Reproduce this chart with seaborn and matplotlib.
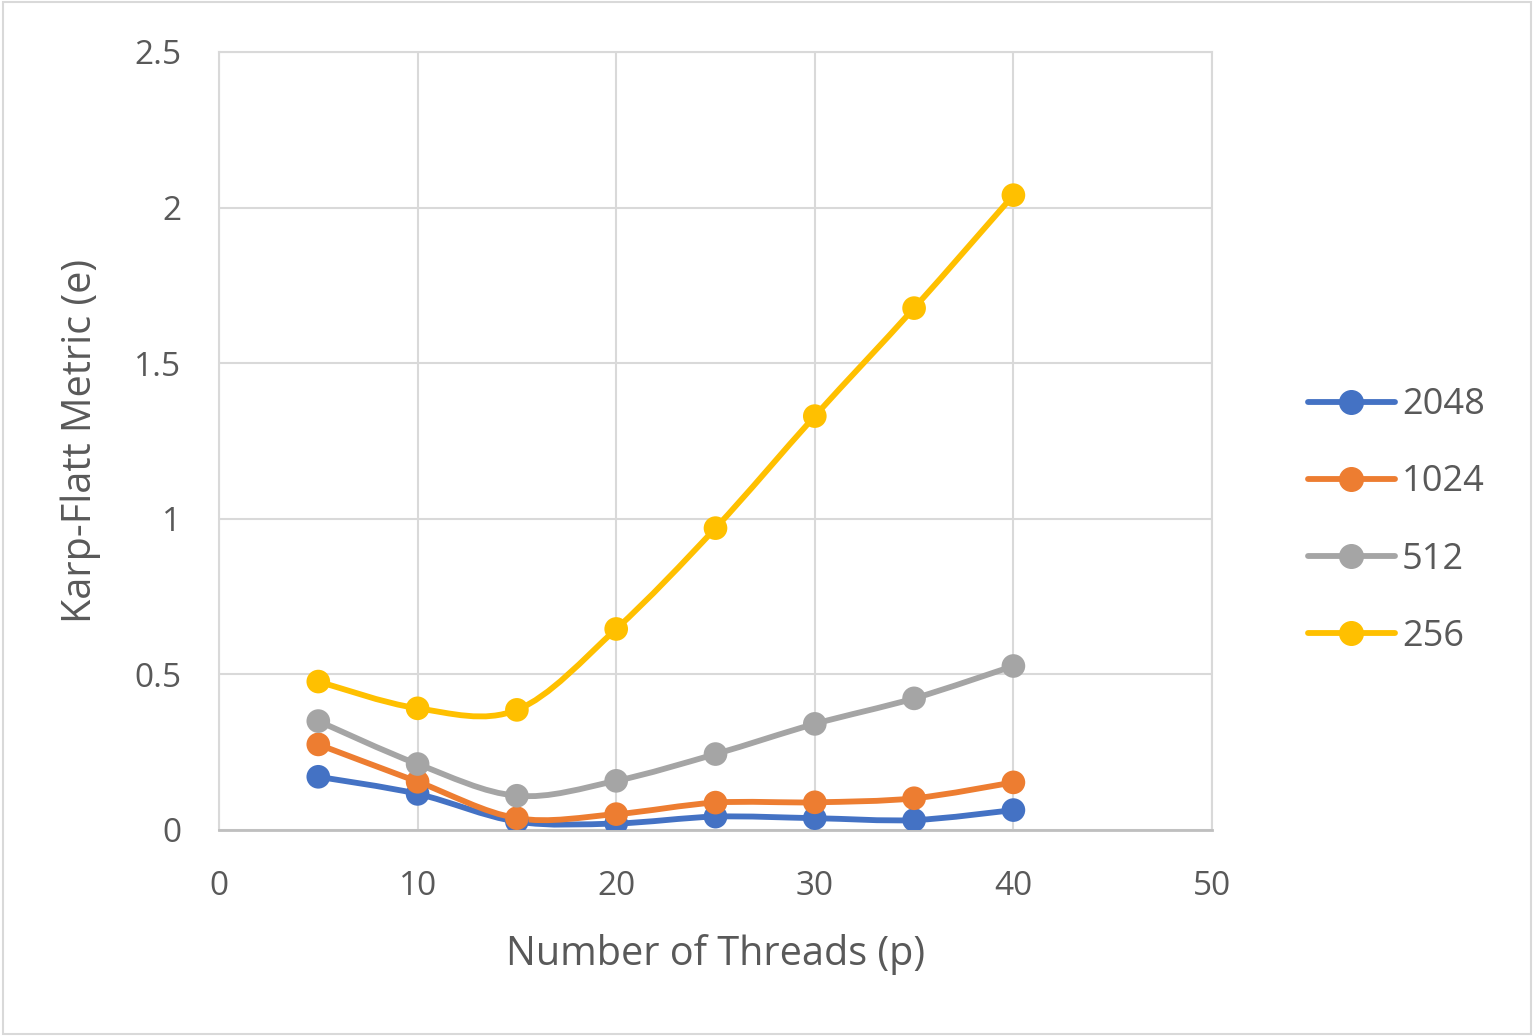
import numpy as np
import pandas as pd
import matplotlib
matplotlib.use("Agg")
import matplotlib.pyplot as plt
from matplotlib.path import Path
from matplotlib.patches import PathPatch, Rectangle
from matplotlib.lines import Line2D
import seaborn as sns

sns.set_style("white")
plt.rcParams["font.family"] = ["Open Sans", "DejaVu Sans"]

# values
threads = [5, 10, 15, 20, 25, 30, 35, 40]
series_names = ["2048", "1024", "512", "256"]
e_2048 = [0.171, 0.116, 0.027, 0.021, 0.043, 0.038, 0.032, 0.064]
e_1024 = [0.275, 0.155, 0.038, 0.051, 0.088, 0.089, 0.102, 0.153]
e_512 = [0.350, 0.212, 0.110, 0.158, 0.244, 0.341, 0.423, 0.527]
e_256 = [0.477, 0.391, 0.386, 0.646, 0.970, 1.330, 1.677, 2.040]
colors = ["#4472C4", "#ED7D31", "#A5A5A5", "#FFC000"]

df = pd.DataFrame({
    "Threads": threads * 4,
    "Metric": e_2048 + e_1024 + e_512 + e_256,
    "Size": [n for n in series_names for _ in threads],
})

TEXT = "#595959"
GRID = "#D9D9D9"


def smooth_path(xs, ys):
    # Excel-style smoothed line: cubic bezier through the points
    pts = np.column_stack([xs, ys]).astype(float)
    verts = [pts[0]]
    codes = [Path.MOVETO]
    n = len(pts)
    for i in range(n - 1):
        p0 = pts[i - 1] if i > 0 else pts[i]
        p1 = pts[i]
        p2 = pts[i + 1]
        p3 = pts[i + 2] if i + 2 < n else pts[i + 1]
        c1 = p1 + (p2 - p0) / 6.0
        c2 = p2 - (p3 - p1) / 6.0
        verts += [c1, c2, p2]
        codes += [Path.CURVE4] * 3
    return Path(verts, codes)


fig = plt.figure(figsize=(15.34, 10.36), dpi=100)
ax = fig.add_axes([219 / 1534, 1 - 830 / 1036, (1212 - 219) / 1534, (830 - 52) / 1036])

handles = []
for name, col in zip(series_names, colors):
    sub = df[df["Size"] == name]
    ax.add_patch(PathPatch(smooth_path(sub["Threads"], sub["Metric"]),
                           facecolor="none", edgecolor=col, lw=4.2, capstyle="round",
                           zorder=3))
    sns.scatterplot(data=sub, x="Threads", y="Metric", color=col, s=290,
                    edgecolor="none", ax=ax, zorder=4, legend=False)
    handles.append(Line2D([0], [0], color=col, lw=4.2, marker="o", markersize=17,
                          solid_capstyle="round"))

ax.set_xlim(0, 50)
ax.set_ylim(0, 2.5)
ax.set_xticks([0, 10, 20, 30, 40, 50])
ax.set_yticks([0, 0.5, 1, 1.5, 2, 2.5])
ax.set_yticklabels(["0", "0.5", "1", "1.5", "2", "2.5"])
ax.grid(True, color=GRID, lw=1.5)
ax.set_axisbelow(True)
for s in ["top", "right", "left"]:
    ax.spines[s].set_color(GRID)
    ax.spines[s].set_linewidth(1.5)
ax.spines["bottom"].set_color("#BFBFBF")
ax.spines["bottom"].set_linewidth(2)
ax.tick_params(length=0, labelsize=24, colors=TEXT)
ax.tick_params(axis="x", pad=29)
ax.tick_params(axis="y", pad=27)

ax.set_xlabel("Number of Threads (p)", fontsize=28.5, color=TEXT, labelpad=22)
ax.set_ylabel("Karp-Flatt Metric (e)", fontsize=28.5, color=TEXT, labelpad=24)

leg = fig.legend(handles, series_names, loc="center left",
                 bbox_to_anchor=(1290 / 1534, 1 - 521 / 1036), frameon=False,
                 fontsize=26, labelcolor=TEXT, handlelength=2.4,
                 handletextpad=0.2, labelspacing=1.14, borderpad=0)

fig.patches.append(Rectangle((0.002, 0.002), 0.996, 0.996, transform=fig.transFigure,
                             fill=False, edgecolor=GRID, lw=1.5))

plt.savefig("out.png", dpi=100)
